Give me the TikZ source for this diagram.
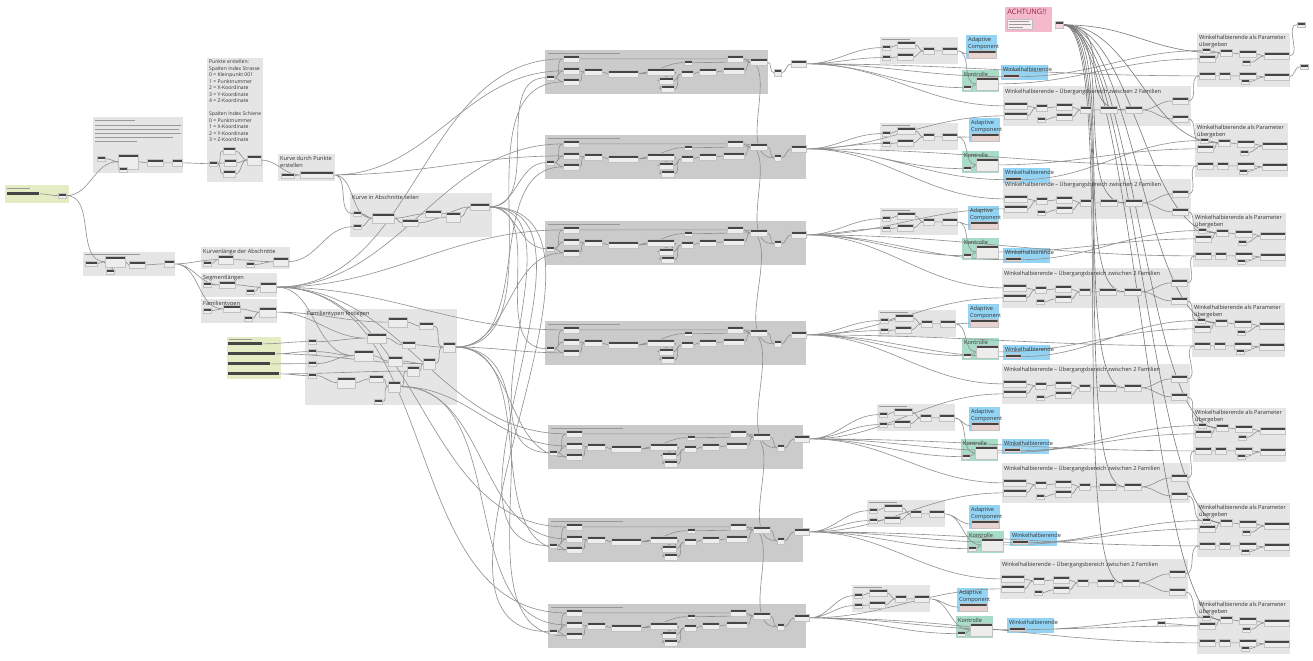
\documentclass[tikz,border=0pt]{standalone}
\usepackage{fontspec}
\setmainfont{Open Sans}
\usetikzlibrary{calc}
\pgfdeclarelayer{grplayer}
\pgfdeclarelayer{wirelayer}
\pgfsetlayers{grplayer,wirelayer,main}
\definecolor{wirec}{HTML}{909090}
\definecolor{grplight}{HTML}{E5E5E5}
\definecolor{grpdark}{HTML}{CBCBCB}
\definecolor{grpgreen}{HTML}{E3ECC2}
\definecolor{grpblue}{HTML}{93D4F4}
\definecolor{grpteal}{HTML}{A7DCC6}
\definecolor{grppink}{HTML}{F5B9CC}
\definecolor{nodehead}{HTML}{454545}
\definecolor{nodebody}{HTML}{EDEDEB}
\definecolor{nodeedge}{HTML}{C2C2C2}
\definecolor{adbody}{HTML}{E6D3CF}
\definecolor{achtred}{HTML}{8E2446}
\newcommand{\grpfont}{\fontsize{3.2}{3.8}\selectfont}
\newcommand{\notefont}{\fontsize{2.9}{3.7}\selectfont}
\tikzset{
  grp/.style 2 args={fill=grplight, inner sep=0pt, anchor=north west,
    minimum width=#1*0.02cm, minimum height=#2*0.02cm},
  title/.style={font=\grpfont, anchor=north west, inner sep=0.035cm, align=left, text=black!80},
  ttl/.style={draw=black!40, line width=0.5pt},
  dn/.style={rectangle, inner sep=0pt, anchor=north west, fill=nodebody, draw=nodeedge,
    line width=0.15pt, minimum width=#1*0.02cm, minimum height=0.15cm,
    path picture={\fill[nodehead] (path picture bounding box.north west)
      rectangle ([yshift=-0.05cm]path picture bounding box.north east);}},
  dn/.default=16,
  sn/.style={dn=8, minimum height=0.1cm},
  bar/.style={rectangle, inner sep=0pt, anchor=north west, fill=nodehead,
    minimum width=#1*0.02cm, minimum height=0.06cm},
  wire/.style={draw=wirec, line width=0.35pt, out=0, in=180},
  awire/.style={draw=wirec!85!black, line width=0.35pt},
}
% middle group: name, x, y, width
\newcommand{\midgrp}[4]{%
  \begin{scope}[shift={(#2,#3)}]
    \begin{pgfonlayer}{grplayer}
      \node[grp={#4}{44}, fill=grpdark] (#1) at (0,0) {};
    \end{pgfonlayer}
    \draw[ttl] (3,3) -- (75,3);
    \node[sn] (#1-in) at (1,25) {};
    \node[dn] (#1-a1) at (18,5) {};
    \node[dn] (#1-a2) at (18,17) {};
    \node[dn] (#1-a3) at (18,28) {};
    \node[dn=18] (#1-b) at (39,18) {};
    \node[dn=30] (#1-c) at (63,20) {};
    \node[dn=27] (#1-d) at (102,18) {};
    \node[dn=14] (#1-d2) at (114,27) {};
    \node[dn=13] (#1-d3) at (116,35) {};
    \node[dn=8, minimum height=0.1cm] (#1-e1) at (139,10) {};
    \node[dn=12] (#1-e2) at (136,20) {};
    \node[dn=17] (#1-f) at (154,18) {};
    \node[dn] (#1-g1) at (182,5) {};
    \node[dn=21] (#1-g2) at (178,17) {};
    \node[dn=17] (#1-h) at (205,8) {};
    \node[dn=7] (#1-i) at (229,19) {};
    \node[dn=15] (#1-j) at (246,10) {};
  \end{scope}
  \begin{pgfonlayer}{wirelayer}
    \draw[wire] (#1-in.east) to (#1-a1.west) (#1-in.east) to (#1-a2.west)
      (#1-in.east) to (#1-a3.west) (#1-a2.east) to (#1-b.west)
      (#1-a3.east) to (#1-b.west) (#1-b.east) to (#1-c.west)
      (#1-c.east) to (#1-d.west) (#1-d.east) to (#1-d2.west)
      (#1-d.east) to (#1-d3.west) (#1-d2.east) to (#1-e2.west)
      (#1-d3.east) to (#1-e2.west) (#1-c.east) to (#1-e1.west)
      (#1-e2.east) to (#1-f.west) (#1-f.east) to (#1-g2.west)
      (#1-a1.east) to (#1-g1.west) (#1-e1.east) to (#1-h.west)
      (#1-g1.east) to (#1-h.west) (#1-g2.east) to (#1-h.west)
      (#1-h.east) to (#1-i.west) (#1-i.east) to (#1-j.west);
  \end{pgfonlayer}}
% small value group
\newcommand{\wertgrp}[3]{%
  \begin{scope}[shift={(#2,#3)}]
    \begin{pgfonlayer}{grplayer}
      \node[grp={78}{27}] (#1) at (0,0) {};
    \end{pgfonlayer}
    \draw[ttl] (2,2.5) -- (30,2.5);
    \node[sn] (#1-i1) at (2,8) {};
    \node[sn] (#1-i2) at (2,18) {};
    \node[dn=18] (#1-a) at (17,4) {};
    \node[dn=16] (#1-b) at (17,16) {};
    \node[dn=11] (#1-c) at (43,10) {};
    \node[dn=15] (#1-d) at (62,10) {};
  \end{scope}
  \begin{pgfonlayer}{wirelayer}
    \draw[wire] (#1-i1.east) to (#1-a.west) (#1-i2.east) to (#1-b.west)
      (#1-a.east) to (#1-c.west) (#1-b.east) to (#1-c.west) (#1-c.east) to (#1-d.west);
  \end{pgfonlayer}}
\newcommand{\adgrp}[3]{%
  \begin{scope}[shift={(#2,#3)}]
    \begin{pgfonlayer}{grplayer}
      \node[grp={31}{24}, fill=grpblue] (#1) at (0,0) {};
    \end{pgfonlayer}
    \node[title] (#1-t) at (0,0) {Adaptive\\Component};
    \node[dn=28, minimum height=0.16cm, fill=adbody] (#1-n) at (1.5,15) {};
  \end{scope}}
\newcommand{\kogrp}[3]{%
  \begin{scope}[shift={(#2,#3)}]
    \begin{pgfonlayer}{grplayer}
      \node[grp={37}{22}, fill=grpteal] (#1) at (0,0) {};
    \end{pgfonlayer}
    \node[title] (#1-t) at (0,0) {Kontrolle};
    \node[dn=22, minimum height=0.27cm] (#1-n) at (14,7) {};
    \node[sn] (#1-s) at (1,15) {};
  \end{scope}
  \begin{pgfonlayer}{wirelayer}
    \draw[wire] (#1-s.east) to (#1-n.west);
  \end{pgfonlayer}}
\newcommand{\wigrp}[3]{%
  \begin{scope}[shift={(#2,#3)}]
    \begin{pgfonlayer}{grplayer}
      \node[grp={47}{15}, fill=grpblue] (#1) at (0,0) {};
    \end{pgfonlayer}
    \node[title] (#1-t) at (0,0) {Winkelhalbierende};
    \node[dn=16, minimum height=0.08cm, fill=adbody] (#1-n) at (2,9.5) {};
  \end{scope}}
% transition between two families
\newcommand{\uegrp}[3]{%
  \begin{scope}[shift={(#2,#3)}]
    \begin{pgfonlayer}{grplayer}
      \node[grp={188}{40}] (#1) at (0,0) {};
    \end{pgfonlayer}
    \node[title] (#1-t) at (0,0) {Winkelhalbierende – Übergangsbereich zwischen 2 Familien};
    \node[dn=23] (#1-a) at (1,16) {};
    \node[dn=23] (#1-b) at (1,26) {};
    \node[dn=11] (#1-c) at (33,18) {};
    \node[sn] (#1-s) at (34,31) {};
    \node[dn=16] (#1-d) at (53,17) {};
    \node[dn=16] (#1-e) at (53,27) {};
    \node[dn=11] (#1-f) at (77,20) {};
    \node[dn=17] (#1-g) at (97,20) {};
    \node[dn=17] (#1-h) at (122,20) {};
    \node[dn=16] (#1-o1) at (169,11) {};
    \node[dn=16] (#1-o2) at (169,29) {};
  \end{scope}
  \begin{pgfonlayer}{wirelayer}
    \draw[wire] (#1-a.east) to (#1-c.west) (#1-b.east) to (#1-c.west)
      (#1-c.east) to (#1-d.west) (#1-s.east) to (#1-e.west)
      (#1-d.east) to (#1-f.west) (#1-e.east) to (#1-f.west)
      (#1-f.east) to (#1-g.west) (#1-g.east) to (#1-h.west)
      (#1-h.east) to (#1-o1.west) (#1-h.east) to (#1-o2.west);
  \end{pgfonlayer}}
\newcommand{\pargrp}[3]{%
  \begin{scope}[shift={(#2,#3)}]
    \begin{pgfonlayer}{grplayer}
      \node[grp={93}{54}] (#1) at (0,0) {};
    \end{pgfonlayer}
    \node[title] (#1-t) at (0,0) {Winkelhalbierende als Parameter\\übergeben};
    \node[sn] (#1-s) at (5,15) {};
    \node[dn] (#1-a) at (2,22) {};
    \node[dn] (#1-b) at (2,39) {};
    \node[dn=12] (#1-c) at (23,16) {};
    \node[dn=11] (#1-d) at (22,39) {};
    \node[dn=17] (#1-e) at (42,17) {};
    \node[dn=17] (#1-f) at (42,39) {};
    \node[sn] (#1-g) at (45,27) {};
    \node[sn] (#1-h) at (44,46) {};
    \node[dn=25] (#1-i) at (67,19) {};
    \node[dn=25] (#1-j) at (67,40) {};
  \end{scope}
  \begin{pgfonlayer}{wirelayer}
    \draw[wire] (#1-s.east) to (#1-c.west) (#1-a.east) to (#1-c.west)
      (#1-c.east) to (#1-e.west) (#1-e.east) to (#1-i.west) (#1-g.east) to (#1-i.west)
      (#1-b.east) to (#1-d.west) (#1-d.east) to (#1-f.west)
      (#1-f.east) to (#1-j.west) (#1-h.east) to (#1-j.west);
  \end{pgfonlayer}}

\begin{document}
\begin{tikzpicture}[x=0.02cm, y=-0.02cm]
  \useasboundingbox (0,0) rectangle (1313,661);
  \begin{pgfonlayer}{grplayer}
    \fill[white] (0,0) rectangle (1313,661);
    % left groups
    \node[grp={64}{18}, fill=grpgreen] (g0) at (5,185) {};
    \node[grp={90}{56}] (gA) at (93,117) {};
    \node[grp={56}{124}] (gB) at (207,58) {};
    \node[grp={57}{27}] (kdp) at (278,154) {};
    \node[grp={142}{44}] (kia) at (350,193) {};
    \node[grp={92}{24}] (gC) at (83,252) {};
    \node[grp={89}{22}] (kl) at (201,247) {};
    \node[grp={76}{24}] (sl) at (201,273) {};
    \node[grp={76}{24}] (ft) at (201,299) {};
    \node[grp={54}{42}, fill=grpgreen] (gG) at (227,337) {};
    \node[grp={152}{96}] (ftf) at (305,309) {};
    \node[grp={47}{25}, fill=grppink] (ach) at (1005,7) {};
  \end{pgfonlayer}
  % titles
  \node[title, font=\notefont] (gB-t) at (gB.north west) {Punkte erstellen:\\Spalten Index Strasse\\0 = Kleinpunkt 001\\1 = Punktnummer\\2 = X-Koordinate\\3 = Y-Koordinate\\4 = Z-Koordinate\\[3.7pt]Spalten Index Schiene\\0 = Punktnummer\\1 = X-Koordinate\\2 = Y-Koordinate\\3 = Z-Koordinate};
  \node[title] (kdp-t) at (kdp.north west) {Kurve durch Punkte\\erstellen};
  \node[title] (kia-t) at (kia.north west) {Kurve in Abschnitte teilen};
  \node[title] (kl-t) at (kl.north west) {Kurvenlänge der Abschnitte};
  \node[title] (sl-t) at (sl.north west) {Segmentlängen};
  \node[title] (ft-t) at (ft.north west) {Familientypen};
  \node[title] (ftf-t) at (ftf.north west) {Familientypen festlegen};
  \node[anchor=north west, inner sep=0.04cm, text=achtred, font=\fontsize{4.2}{5}\selectfont] (ach-t) at (ach.north west) {ACHTUNG!!};
  % unreadable small captions
  \draw[ttl] (7,188.5) -- (30,188.5);
  \foreach \y/\l in {120/40, 125/86, 129/84, 133/86, 137/78, 141/42} {\draw[ttl] (95,\y) -- ++(\l,0);}
  \draw[ttl] (85,254.5) -- (140,254.5);
  \draw[ttl] (229,339.5) -- (252,339.5);
  % input nodes
  \node[bar=32] (g0-b) at (7,192) {};
  \node[sn] (g0-o) at (58,193) {};
  \node[sn] (gA-s1) at (97,156) {};
  \node[dn=20, minimum height=0.3cm] (gA-n) at (118,154) {};
  \node[sn] (gA-s2) at (119,167) {};
  \node[dn=16] (gA-m) at (147,159) {};
  \node[dn=10] (gA-o) at (172,159) {};
  \node[sn] (gB-s) at (209,161) {};
  \node[dn=12] (gB-a) at (223,147) {};
  \node[dn=12] (gB-b) at (224,159) {};
  \node[dn=12] (gB-c) at (223,170) {};
  \node[dn=14, minimum height=0.2cm] (gB-d) at (247,155) {};
  \node[dn=13, minimum height=0.1cm] (kdp-s) at (281,173) {};
  \node[dn=33] (kdp-n) at (300,171) {};
  \node[sn] (kia-a) at (353,211) {};
  \node[sn] (kia-b) at (353,224) {};
  \node[dn=22, minimum height=0.2cm] (kia-c) at (372,213) {};
  \node[dn=16] (kia-d) at (402,219) {};
  \node[dn=16] (kia-e) at (425,210) {};
  \node[dn=14, minimum height=0.2cm] (kia-f) at (446,212) {};
  \node[dn=19] (kia-o) at (470,203) {};
  \node[dn=12, minimum height=0.1cm] (gC-s1) at (85,261) {};
  \node[dn=20, minimum height=0.22cm] (gC-n) at (105,256) {};
  \node[sn] (gC-s2) at (106,269) {};
  \node[dn=16] (gC-m) at (129,261) {};
  \node[dn=10] (gC-o) at (164,260) {};
  \node[sn] (kl-s1) at (203,261) {};
  \node[dn=15, minimum height=0.18cm] (kl-n) at (218,255) {};
  \node[sn] (kl-s2) at (246,262) {};
  \node[dn=15, minimum height=0.18cm] (kl-o) at (273,257) {};
  \node[sn] (sl-s1) at (203,282) {};
  \node[dn=16] (sl-n) at (219,281) {};
  \node[sn] (sl-s2) at (246,289) {};
  \node[dn=16, minimum height=0.2cm] (sl-o) at (260,282) {};
  \node[sn] (ft-s1) at (203,308) {};
  \node[dn=17] (ft-n) at (223,305) {};
  \node[sn] (ft-s2) at (244,316) {};
  \node[dn=17, minimum height=0.2cm] (ft-o) at (259,307) {};
  \node[bar=34] (gb1) at (228,342) {};
  \node[bar=47] (gb2) at (228,352) {};
  \node[bar=42] (gb3) at (228,362) {};
  \node[bar=51] (gb4) at (228,372) {};
  % family types
  \node[sn] (ftf-p1) at (308,339) {};
  \node[sn] (ftf-p2) at (308,349) {};
  \node[sn] (ftf-p3) at (308,361) {};
  \node[sn] (ftf-p4) at (308,373) {};
  \node[sn] (ftf-p5) at (374,399) {};
  \node[dn=19, minimum height=0.2cm] (ftf-n1) at (367,333) {};
  \node[dn=19, minimum height=0.2cm] (ftf-n2) at (388,317) {};
  \node[dn=14] (ftf-n3) at (419,322) {};
  \node[dn=19, minimum height=0.22cm] (ftf-n4) at (354,350) {};
  \node[dn=14, minimum height=0.2cm] (ftf-n5) at (388,356) {};
  \node[dn=13] (ftf-n6) at (402,341) {};
  \node[dn=12, minimum height=0.22cm] (ftf-n7) at (423,358) {};
  \node[dn=12, minimum height=0.2cm] (ftf-n8) at (407,366) {};
  \node[dn=18, minimum height=0.22cm] (ftf-n9) at (337,377) {};
  \node[dn=14] (ftf-n10) at (369,375) {};
  \node[dn=12, minimum height=0.22cm] (ftf-n11) at (388,381) {};
  \node[dn=12, minimum height=0.2cm] (ftf-o) at (443,342) {};
  % middle column
  \foreach \n/\x/\y/\w in {m1/545/50/223, m2/545/135/261, m3/545/221/261, m4/545/321/261,
      m5/548/425/255, m6/548/518/255, m7/548/604/258} {\midgrp{\n}{\x}{\y}{\w}}
  % right side
  \foreach \k/\x/\y in {1/880/37, 2/880/123, 3/880/208, 4/878/310, 5/877/404, 6/867/500, 7/852/585} {\wertgrp{w\k}{\x}{\y}}
  \foreach \k/\x/\y in {1/966/35, 2/969/118, 3/968/206, 4/968/304, 5/969/407, 6/969/505, 7/957/588} {\adgrp{ad\k}{\x}{\y}}
  \foreach \k/\x/\y in {1/962/70, 2/962/151, 3/962/238, 4/962/338, 5/961/439, 6/967/531, 7/956/616} {\kogrp{ko\k}{\x}{\y}}
  \foreach \k/\x/\y in {1/1003/86, 2/1003/179, 3/1002/268, 4/1002/364, 5/1002/463, 6/1000/559} {\uegrp{ue\k}{\x}{\y}}
  \foreach \k/\x/\y in {1/1001/65, 2/1003/168, 3/1003/248, 4/1003/345, 5/1002/439, 6/1010/531, 7/1007/618} {\wigrp{wi\k}{\x}{\y}}
  \foreach \k/\x/\y in {1/1197/33, 2/1195/123, 3/1193/213, 4/1192/303, 5/1193/408, 6/1197/503, 7/1197/600} {\pargrp{pa\k}{\x}{\y}}
  \node[sn] (pa1-x1) at (1297,22) {};
  \node[sn] (pa1-x2) at (1300,64) {};
  \node[sn] (lone) at (1157,621) {};
  % warning note
  \node[rectangle, inner sep=0pt, anchor=north west, fill=white!75!grppink, draw=black!25,
    line width=0.2pt, minimum width=0.5cm, minimum height=0.2cm] (ach-n) at (1007,19) {};
  \foreach \y/\l in {21.5/20, 24.5/22, 27.5/14} {\draw[ttl, line width=0.35pt] (1009,\y) -- ++(\l,0);}
  \node[dn=8, fill=grppink!60!white] (ach-o) at (1055,21) {};
  % connectors
  \begin{pgfonlayer}{wirelayer}
    \draw[wire] (g0-b.east) to (g0-o.west)
      (g0-o.east) to (gA-n.west) (g0-o.east) to (gC-n.west)
      (gA-s1.east) to (gA-n.west) (gA-s2.east) to (gA-n.west)
      (gA-n.east) to (gA-m.west) (gA-m.east) to (gA-o.west)
      (gA-o.east) to (gB-s.west)
      (gB-s.east) to (gB-a.west) (gB-s.east) to (gB-b.west) (gB-s.east) to (gB-c.west)
      (gB-a.east) to (gB-d.west) (gB-b.east) to (gB-d.west) (gB-c.east) to (gB-d.west)
      (gB-d.east) to (kdp-n.west) (kdp-s.east) to (kdp-n.west)
      (kdp-n.east) to (kia-a.west) (kdp-n.east) to (kia-c.west)
      (kdp-n.east) to (m1-a2.west) (kdp-n.east) to (m2-a2.west)
      (kia-a.east) to (kia-c.west) (kia-b.east) to (kia-c.west)
      (kia-c.east) to (kia-d.west) (kia-c.east) to (kia-e.west)
      (kia-d.east) to (kia-f.west) (kia-e.east) to (kia-o.west) (kia-f.east) to (kia-o.west)
      (gC-s1.east) to (gC-n.west) (gC-s2.east) to (gC-n.west)
      (gC-n.east) to (gC-m.west) (gC-m.east) to (gC-o.west)
      (gC-o.east) to (kl-n.west) (gC-o.east) to (sl-n.west) (gC-o.east) to (ft-n.west)
      (kl-s1.east) to (kl-n.west) (kl-n.east) to (kl-o.west) (kl-s2.east) to (kl-o.west)
      (sl-s1.east) to (sl-n.west) (sl-n.east) to (sl-o.west) (sl-s2.east) to (sl-o.west)
      (ft-s1.east) to (ft-n.west) (ft-n.east) to (ft-o.west) (ft-s2.east) to (ft-o.west)
      (kl-o.east) to (kia-b.west)
      (ft-o.east) to (ftf-n1.west) (ft-o.east) to (ftf-n2.west) (sl-o.east) to (ftf-n4.west)
      (gb1.east) to (ftf-p1.west) (gb2.east) to (ftf-p2.west)
      (gb3.east) to (ftf-p3.west) (gb4.east) to (ftf-p4.west)
      (gb2.east) to (ftf-n7.west) (gb4.east) to (ftf-n8.west)
      (ftf-p1.east) to (ftf-n1.west) (ftf-p2.east) to (ftf-n4.west)
      (ftf-p3.east) to (ftf-n4.west) (ftf-p4.east) to (ftf-n9.west)
      (ftf-n1.east) to (ftf-n6.west) (ftf-n2.east) to (ftf-n3.west)
      (ftf-n3.east) to (ftf-o.west) (ftf-n4.east) to (ftf-n5.west)
      (ftf-n5.east) to (ftf-n7.west) (ftf-n6.east) to (ftf-o.west)
      (ftf-n7.east) to (ftf-o.west) (ftf-n9.east) to (ftf-n10.west)
      (ftf-n10.east) to (ftf-n11.west) (ftf-p5.east) to (ftf-n11.west)
      (ftf-n11.east) to (ftf-n8.west) (ftf-n8.east) to (ftf-n7.west)
      (pa1-i.east) to (pa1-x1.west) (pa1-j.east) to (pa1-x2.west)
      (lone.east) to (pa7-a.west);
    \foreach \k in {5,6,7} {\draw[wire] (ftf-n11.east) to (m\k-a2.west);}
    \foreach \k in {1,...,7} {
      \draw[wire] (kia-o.east) to (m\k-in.west) (ftf-o.east) to (m\k-a3.west)
        (sl-o.east) to (m\k-a1.west)
        (m\k-j.east) to (w\k-i1.west) (m\k-j.east) to (w\k-i2.west)
        (w\k-d.east) to (ad\k-n.west) (w\k-d.east) to (ko\k-n.west)
        (m\k-j.east) to (ko\k-s.west) (m\k-j.east) to (wi\k-n.west)
        (ko\k-n.east) to (pa\k-a.west) (m\k-j.east) to (pa\k-b.west)
        (wi\k-n.east) to (pa\k-s.west);
      \draw[awire] (ach-o.east) .. controls +(70,0) and +(-70,0) .. (pa\k-c.west);
    }
    \foreach \k in {1,...,6} {
      \pgfmathtruncatemacro{\nk}{\k+1}
      \draw[wire] (m\k-j.east) to (ue\k-a.west) (m\nk-j.east) to (ue\k-b.west)
        (ue\k-o1.east) to (pa\k-b.west) (ue\k-o2.east) to (pa\nk-s.west)
        (m\k-g1.east) to (m\nk-i.west);
      \draw[awire] (ach-o.east) .. controls +(55,0) and +(-55,0) .. (ue\k-h.west);
    }
  \end{pgfonlayer}
\end{tikzpicture}
\end{document}
